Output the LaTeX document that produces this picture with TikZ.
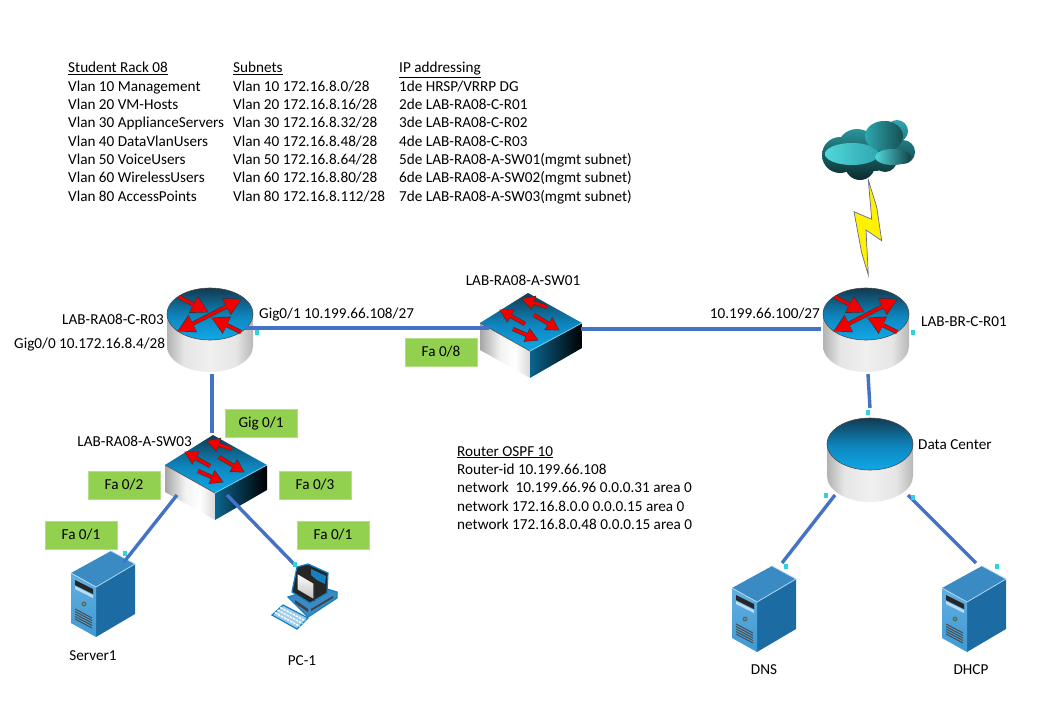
\documentclass[tikz,border=0pt]{standalone}
\usepackage{fontspec}
\setmainfont{Carlito}
\usetikzlibrary{arrows.meta,positioning}

\definecolor{linkblue}{HTML}{4472C4}
\definecolor{taggreen}{HTML}{92D050}
\definecolor{portcyan}{HTML}{2FD3E0}
\definecolor{disctop}{HTML}{123A52}
\definecolor{discmid}{HTML}{0E86BE}
\definecolor{discbot}{HTML}{10A8E8}
\definecolor{srvfront}{HTML}{3C9AD6}
\definecolor{srvside}{HTML}{1D6BA3}
\definecolor{srvtop}{HTML}{3A8AC4}
\definecolor{pcedge}{HTML}{1580C0}
\definecolor{cldmain}{HTML}{2FA6AE}
\definecolor{cldlight}{HTML}{50D6DA}
\definecolor{clddark}{HTML}{0A2A2C}

\pgfdeclareverticalshading{discshade}{100bp}{color(0bp)=(discbot); color(25bp)=(discbot); color(48bp)=(discmid); color(75bp)=(disctop); color(100bp)=(disctop)}
\pgfdeclarehorizontalshading{sideshade}{100bp}{color(0bp)=(black!30); color(25bp)=(black!30); color(35bp)=(black!10); color(50bp)=(black!6); color(65bp)=(black!10); color(75bp)=(black!28); color(100bp)=(black!28)}
\pgfdeclarehorizontalshading{leftface}{100bp}{color(0bp)=(black!35); color(25bp)=(black!35); color(45bp)=(black!5); color(60bp)=(white); color(75bp)=(black!15); color(100bp)=(black!15)}

\newcommand{\redarr}[3]{%
  \draw[black!80, line width=4.2pt, shorten >=-1pt, -{Triangle[length=#1pt+1.5pt,width=#1pt+2pt]}] #2 -- #3;
  \draw[red!95!black, line width=3pt, -{Triangle[length=#1pt,width=#1pt]}] #2 -- #3;
}

\tikzset{
  portpt/.style={inner sep=0pt, outer sep=0pt, minimum size=0pt},
  pics/disc/.style={code={
    \shade[shading=sideshade]
      (-43,0) -- (-43,32) arc[start angle=180, end angle=360, x radius=43pt, y radius=26pt] -- (43,0) -- cycle;
    \shade[shading=discshade, draw=black!70, line width=.6pt]
      (0,0) ellipse[x radius=43pt, y radius=26pt];
    \node[portpt] (-s) at (2,60) {};
    \node[portpt] (-n) at (0,-36) {};
    \node[portpt] (-sw) at (-35,51) {};
    \node[portpt] (-se) at (38,51) {};
  }},
  pics/router/.style={code={
    \pic (-d) at (0,0) {disc};
    \redarr{16}{(-31,-17)}{(-2,-2)}
    \redarr{16}{(31,18)}{(2,4)}
    \redarr{16}{(0,1)}{(31,-15)}
    \redarr{16}{(0,1)}{(-32,17)}
    \node[portpt] (-s) at (2,60) {};
    \node[portpt] (-e) at (35,14) {};
    \node[portpt] (-w) at (-45,15) {};
  }},
  pics/switch/.style={code={
    \shade[shading=leftface]
      (-50,1) -- (0,29) -- (0,56) -- (-50,28) -- cycle;
    \shade[left color=discmid!75!black, right color=black]
      (0,29) -- (52,1) -- (52,26) -- (0,56) -- cycle;
    \shade[shading=discshade]
      (-2,-29) -- (-50,1) -- (0,29) -- (52,1) -- cycle;
    \draw[black!65, line width=.7pt] (-50,1) -- (0,29);
    \draw[cyan!50!white, line width=.7pt] (0,29) -- (52,1);
    \redarr{12}{(17,-15)}{(-8,-23)}
    \redarr{12}{(-5,2)}{(-30,-12)}
    \redarr{12}{(4,-7)}{(29,8)}
    \redarr{12}{(-17,7)}{(8,18)}
    \node[portpt] (-n) at (-3,-31) {};
    \node[portpt] (-w) at (-41,6) {};
    \node[portpt] (-e) at (51,7) {};
    \node[portpt] (-sw) at (-38,31) {};
    \node[portpt] (-se) at (12,31) {};
  }},
  pics/server/.style={code={
    \fill[srvtop] (15,-36) -- (-25,-14) -- (0,0) -- (39,-23) -- cycle;
    \fill[srvside] (0,0) -- (39,-23) -- (39,27) -- (0,50) -- cycle;
    \shade[top color=srvfront!80!white, bottom color=srvfront] (-25,-14) -- (0,0) -- (0,50) -- (-25,36) -- cycle;
    \draw[white!60!srvfront, line width=.8pt] (15,-36) -- (39,-23) -- (0,0) -- (-25,-14);
    \fill[black!85] (-21,-7) -- (-3,2) -- (-3,7) -- (-21,-2) -- cycle;
    \fill[white!65!srvfront] (-21,-1) -- (-3,8) -- (-3,11) -- (-21,2) -- cycle;
    \fill[black!60] (-12,17) circle[radius=2.5pt];
    \fill[green!40!srvfront] (-12,17) circle[radius=1.2pt];
    \foreach \v in {0,2.5,5,7.5,10}
      \draw[black!70, line width=1pt] (-21,22+\v) -- (-4,31+\v);
    \node[portpt] (-n) at (#1) {};
  }},
  pics/desktop/.style={code={
    \fill[srvtop, draw=pcedge, line width=1.2pt] (-15,0) -- (5,20) -- (34,1) -- (34,-5) -- (17,-10) -- cycle;
    \fill[black!75] (-8,6) -- (5,15) -- (5,12) -- (-8,3) -- cycle;
    \fill[black!75] (8,14) -- (30,1) -- (30,-1) -- (8,12) -- cycle;
    \fill[black!85, draw=pcedge, line width=1.2pt] (-6,-30) -- (5,-33) -- (25,-24) -- (24,-4) -- (7,6) -- (-11,-5) -- cycle;
    \fill[pcedge] (8,-28) -- (23,-21) -- (22,-13) -- (14,-17) -- (8,-22) -- cycle;
    \shade[top color=white, bottom color=black!25, draw=black!85, line width=1.4pt] (-6,-24) -- (11,-14) -- (11,3) -- (-6,-7) -- cycle;
    \fill[white!50!srvfront, draw=pcedge, line width=1.2pt] (-31,18) -- (-20,8) -- (5,21) -- (-6,32) -- cycle;
    \foreach \t in {.25,.5,.75}
      \draw[white, line width=1.4pt, dash pattern=on 2.5pt off 1pt] ({-31+11*\t},{18-10*\t}) -- ({-6+11*\t},{32-11*\t});
    \node[portpt] (-n) at (-9,-33) {};
  }}
}

\begin{document}
\begin{tikzpicture}[
  x=1pt, y=-1pt,
  infotext/.style={align=left, anchor=north west, inner sep=0pt, font=\fontsize{15.2}{18.35}\selectfont},
  lbl/.style={inner sep=0pt, font=\fontsize{15.2}{18}\selectfont},
  tag/.style={fill=taggreen, draw=taggreen!70!white, line width=.5pt, minimum width=72pt, minimum height=28pt, inner sep=0pt, font=\fontsize{15.2}{18}\selectfont},
  port/.style={fill=portcyan, inner sep=0pt, minimum width=4pt, minimum height=5pt},
  link/.style={draw=linkblue, line width=3.4pt}
]
  \useasboundingbox (0,0) rectangle (1049,720);

  % tables
  \node[infotext] (rack) at (68,62) {\underline{Student Rack 08}\\Vlan 10 Management\\Vlan 20 VM-Hosts\\Vlan 30 ApplianceServers\\Vlan 40 DataVlanUsers\\Vlan 50 VoiceUsers\\Vlan 60 WirelessUsers\\Vlan 80 AccessPoints};
  \node[infotext] (subnets) at (233,62) {\underline{Subnets}\\Vlan 10 172.16.8.0/28\\Vlan 20 172.16.8.16/28\\Vlan 30 172.16.8.32/28\\Vlan 40 172.16.8.48/28\\Vlan 50 172.16.8.64/28\\Vlan 60 172.16.8.80/28\\Vlan 80 172.16.8.112/28};
  \node[infotext] (addr) at (399,62) {\underline{IP addressing}\\1de HRSP/VRRP DG\\2de LAB-RA08-C-R01\\3de LAB-RA08-C-R02\\4de LAB-RA08-C-R03\\5de LAB-RA08-A-SW01(mgmt subnet)\\6de LAB-RA08-A-SW02(mgmt subnet)\\7de LAB-RA08-A-SW03(mgmt subnet)};
  \node[infotext] (ospf) at (457,446) {\underline{Router OSPF 10}\\Router-id 10.199.66.108\\network\ \ 10.199.66.96 0.0.0.31 area 0\\network 172.16.8.0.0 0.0.0.15 area 0\\network 172.16.8.0.48 0.0.0.15 area 0};

  % devices
  \pic (r03) at (210,314) {router};
  \pic (r01) at (866,314) {router};
  \pic (dc) at (870,444) {disc};
  \pic (sw01) at (530,322) {switch};
  \pic (sw03) at (215,464) {switch};
  \pic (srv1) at (96,587) {server={28,-25}};
  \pic (dns) at (757,602) {server={25,-39}};
  \pic (dhcp) at (967,602) {server={9,-39}};
  \pic (pc1) at (303,597) {desktop};

  % cloud
  \shade[top color=cldmain, middle color=cldmain, bottom color=clddark]
    \foreach \x/\y/\r in {840/155/18, 857/149/20, 875/152/19, 886/138/17, 897/131/11, 903/152/12, 885/160/12, 860/165/15}
      {(\x,\y) circle[radius=\r pt]};
  \shade[left color=cldlight, right color=cldmain] (852,154) ellipse[x radius=27pt, y radius=11pt];
  \shade[left color=cldmain, right color=clddark!70!cldmain] (884,136) ellipse[x radius=19pt, y radius=15pt];
  \shade[left color=cldlight, right color=clddark!80!cldmain] (893,157) ellipse[x radius=18pt, y radius=8pt];

  % bolt
  \fill[yellow, draw=blue!30!black!60, line width=.7pt] (868.3,180) -- (876.7,207) -- (881.7,240.7) -- (866,230) -- (868.3,275) -- (861.7,253) -- (854,211.7) -- (871.7,219.3) -- cycle;

  % links
  \draw[link] (r03-e) -- (sw01-w);
  \draw[link] (sw01-e) -- (r01-w);
  \draw[link] (r03-s) -- (sw03-n);
  \draw[link] (sw03-sw) -- (srv1-n);
  \draw[link] (sw03-se) -- (pc1-n);
  \draw[link] (r01-s) -- (dc-n);
  \draw[link] (dc-sw) -- (dns-n);
  \draw[link] (dc-se) -- (dhcp-n);

  % small marks
  \foreach \x/\y [count=\i] in {257/332, 913/332, 868/412, 125/553, 295/564, 826/495, 913/497, 786/566, 997/566}
    \node[port] (mark\i) at (\x,\y) {};

  % port tags
  \node[tag] (tagr) at (261,423.5) {Gig 0/1};
  \node[tag] (tagl) at (124,485) {Fa 0/2};
  \node[tag] (tagd) at (315,485) {Fa 0/3};
  \node[tag] (tags) at (81,535) {Fa 0/1};
  \node[tag] (tagp) at (333,535) {Fa 0/1};
  \node[tag] (tagc) at (441,352) {Fa 0/8};

  % labels
  \node[lbl, anchor=west] (nr03) at (62,319) {LAB-RA08-C-R03};
  \node[lbl, anchor=west] (ng00) at (14,345) {Gig0/0 10.172.16.8.4/28};
  \node[lbl, anchor=west] (ng01) at (259,315) {Gig0/1 10.199.66.108/27};
  \node[lbl] (nsw01) at (523,280) {LAB-RA08-A-SW01};
  \node[lbl, anchor=east] (nip) at (820,314) {10.199.66.100/27};
  \node[lbl, anchor=west] (nr01) at (921,322) {LAB-BR-C-R01};
  \node[lbl, anchor=east] (nsw03) at (192,441) {LAB-RA08-A-SW03};
  \node[lbl, anchor=west] (ndc) at (918,445) {Data Center};
  \node[lbl] (nsrv) at (93,656) {Server1};
  \node[lbl] (npc) at (302,661) {PC-1};
  \node[lbl] (ndns) at (764,670) {DNS};
  \node[lbl] (ndhcp) at (971,670) {DHCP};
\end{tikzpicture}
\end{document}
